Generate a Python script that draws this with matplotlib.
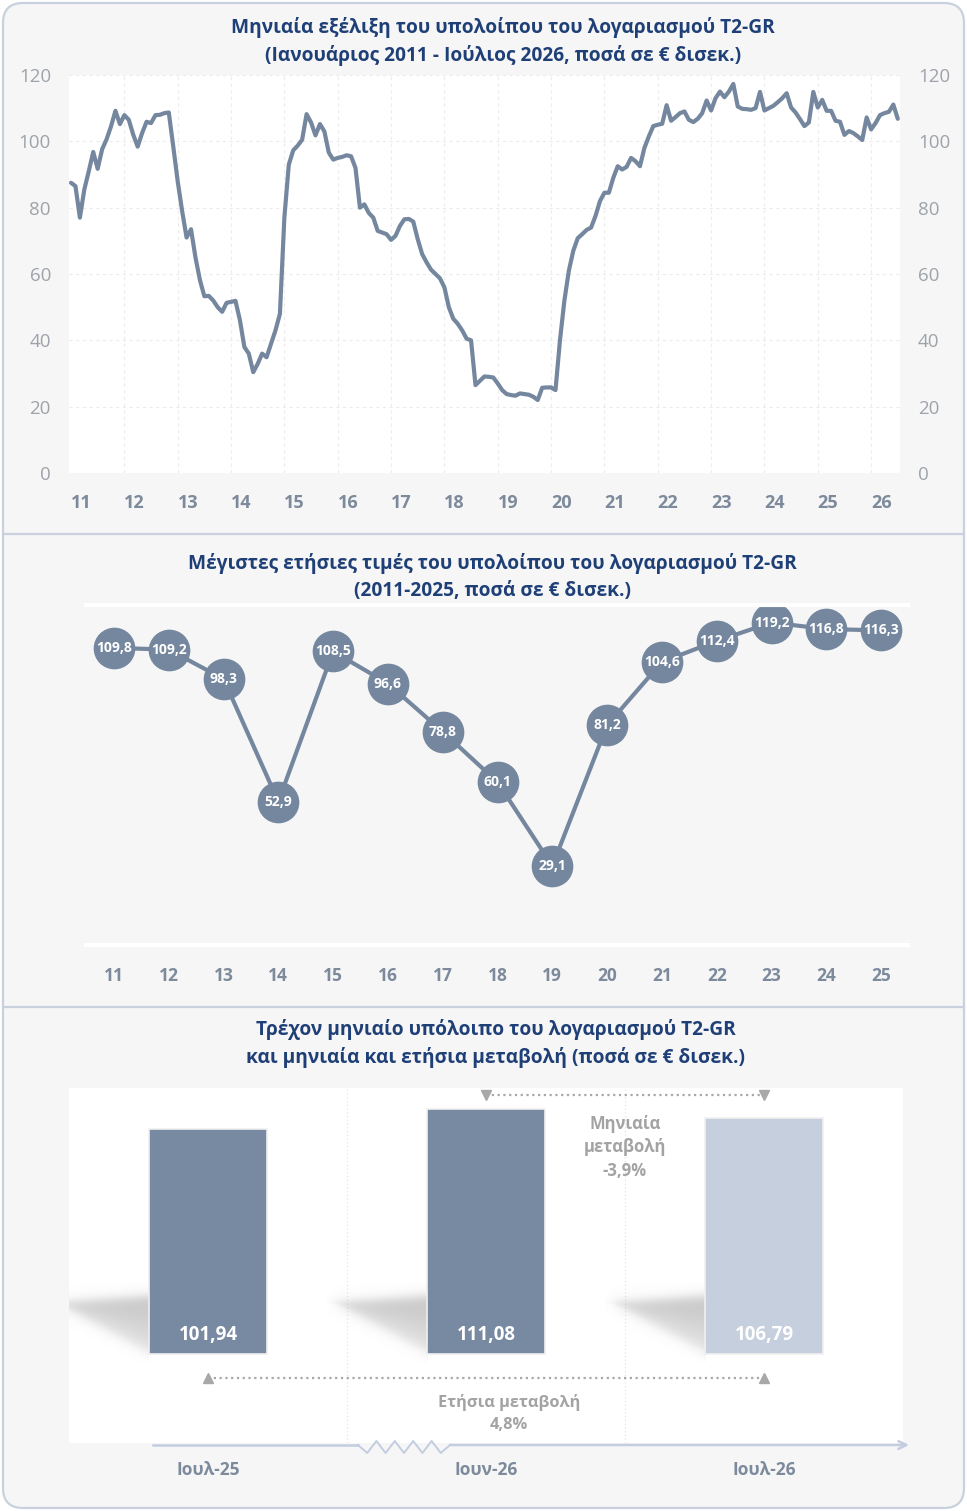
import numpy as np
import matplotlib
matplotlib.use('Agg')
import matplotlib.pyplot as plt
from matplotlib.patches import FancyBboxPatch

plt.rcParams['font.family'] = ['Open Sans', 'DejaVu Sans']

W, H = 967, 1511

# ---------------- data ----------------
# Monthly T2-GR balance, Jan 2011 - Jul 2026 (EUR bn)
bal_2011 = [87.5, 86.5, 77.0, 85.5, 91.0, 96.8, 91.7, 97.6, 100.6, 104.5, 109.2, 105.2]
bal_2012 = [107.9, 106.5, 102.0, 98.4, 102.5, 105.9, 105.5, 107.9, 108.0, 108.5, 108.7, 98.5]
bal_2013 = [88.0, 79.0, 71.0, 73.5, 65.0, 58.2, 53.3, 53.4, 52.0, 50.0, 48.6, 51.3]
bal_2014 = [51.6, 51.9, 46.1, 38.0, 36.0, 30.4, 32.9, 36.0, 34.9, 39.0, 43.0, 48.0]
bal_2015 = [77.0, 93.0, 97.3, 98.7, 100.5, 108.2, 105.7, 101.8, 105.2, 103.0, 96.6, 94.5]
bal_2016 = [95.0, 95.3, 95.8, 95.5, 92.0, 80.0, 81.0, 78.4, 77.0, 73.0, 72.5, 72.0]
bal_2017 = [70.3, 71.5, 74.5, 76.5, 76.6, 75.8, 70.5, 66.0, 63.5, 61.3, 60.0, 58.7]
bal_2018 = [56.0, 50.0, 46.5, 45.0, 43.0, 40.5, 40.0, 26.5, 27.8, 29.1, 29.0, 28.8]
bal_2019 = [27.0, 25.0, 23.8, 23.5, 23.3, 24.0, 23.8, 23.6, 23.0, 22.0, 25.7, 25.8]
bal_2020 = [25.8, 25.0, 40.0, 52.0, 61.0, 67.0, 70.8, 72.0, 73.3, 74.0, 77.5, 82.0]
bal_2021 = [84.5, 84.5, 89.0, 92.5, 91.5, 92.3, 95.0, 94.0, 92.5, 98.0, 101.5, 104.6]
bal_2022 = [105.0, 105.3, 110.9, 106.2, 107.3, 108.5, 109.0, 106.5, 105.8, 106.8, 108.5, 112.3]
bal_2023 = [109.3, 113.0, 115.0, 113.3, 115.0, 117.3, 110.5, 109.8, 109.7, 109.5, 110.0, 114.9]
bal_2024 = [109.3, 110.0, 110.7, 111.8, 113.0, 114.5, 110.2, 108.7, 106.7, 104.6, 105.7, 114.9]
bal_2025 = [110.2, 112.5, 109.2, 109.2, 106.2, 105.9, 101.94, 103.1, 102.5, 101.5, 100.4, 107.2]
bal_2026 = [103.6, 105.5, 107.9, 108.5, 108.9, 111.08, 106.79]
monthly_balance = (bal_2011 + bal_2012 + bal_2013 + bal_2014 + bal_2015 + bal_2016 +
                   bal_2017 + bal_2018 + bal_2019 + bal_2020 + bal_2021 + bal_2022 +
                   bal_2023 + bal_2024 + bal_2025 + bal_2026)
top_year_labels = ['11', '12', '13', '14', '15', '16', '17', '18', '19', '20',
                   '21', '22', '23', '24', '25', '26']
top_yticks = [0, 20, 40, 60, 80, 100, 120]

# Annual maxima 2011-2025
max_years = [2011, 2012, 2013, 2014, 2015, 2016, 2017, 2018, 2019, 2020,
             2021, 2022, 2023, 2024, 2025]
max_values = [109.8, 109.2, 98.3, 52.9, 108.5, 96.6, 78.8, 60.1, 29.1, 81.2,
              104.6, 112.4, 119.2, 116.8, 116.3]
max_year_labels = ['11', '12', '13', '14', '15', '16', '17', '18', '19', '20',
                   '21', '22', '23', '24', '25']

# Current balance comparison
bar_labels = ['Ιουλ-25', 'Ιουν-26', 'Ιουλ-26']
bar_values = [101.94, 111.08, 106.79]
monthly_change = '-3,9%'
annual_change = '4,8%'

# ---------------- style ----------------
TITLE_C = '#1f3f77'
LINE_C = '#74879e'
TICK_C = '#7d8a9c'
YTICK_C = '#9ea3aa'
GRAY_T = '#a3a3a3'
BAR_DARK = '#778aa1'
BAR_LIGHT = '#c6cfdd'
BORDER_C = '#c9d1de'
TFS = 13.8


def fmt(v, d):
    return f"{v:.{d}f}".replace('.', ',')


fig = plt.figure(figsize=(W / 100, H / 100), dpi=100, facecolor='white')


def px_axes(x0, y0, x1, y1, **kw):
    return fig.add_axes([x0 / W, 1 - y1 / H, (x1 - x0) / W, (y1 - y0) / H], **kw)


# background card
bg = px_axes(0, 0, W, H)
bg.set_xlim(0, W)
bg.set_ylim(H, 0)
bg.axis('off')
bg.set_zorder(-10)
bg.add_patch(FancyBboxPatch((3, 3), W - 6, H - 6,
                            boxstyle='round,pad=0,rounding_size=20',
                            fc='#f6f6f6', ec=BORDER_C, lw=1.6))
bg.plot([3, W - 3], [534, 534], color=BORDER_C, lw=1.6)
bg.plot([3, W - 3], [1007, 1007], color=BORDER_C, lw=1.6)

# titles
def title(x, y, s):
    fig.text(x / W, 1 - y / H, s, ha='center', va='center', fontsize=TFS,
             fontweight='bold', color=TITLE_C)


title(503, 28, 'Μηνιαία εξέλιξη του υπολοίπου του λογαριασμού T2-GR')
title(503, 55, '(Ιανουάριος 2011 - Ιούλιος 2026, ποσά σε € δισεκ.)')
title(492, 564, 'Μέγιστες ετήσιες τιμές του υπολοίπου του λογαριασμού T2-GR')
title(492, 591, '(2011-2025, ποσά σε € δισεκ.)')
title(496, 1030, 'Τρέχον μηνιαίο υπόλοιπο του λογαριασμού T2-GR')
title(496, 1058, 'και μηνιαία και ετήσια μεταβολή (ποσά σε € δισεκ.)')

# ---------------- top chart ----------------
ax1 = px_axes(69, 75, 900, 473)
ax1.set_facecolor('white')
months = np.arange(len(monthly_balance))
ax1.plot(months, monthly_balance, color=LINE_C, lw=3.0, solid_joinstyle='round',
         solid_capstyle='round', zorder=3)
ax1.set_xlim(-0.45, 186.5)
ax1.set_ylim(0, 120)
for s in ax1.spines.values():
    s.set_visible(False)
ax1.set_yticks(top_yticks)
ax1.set_yticklabels([str(v) for v in top_yticks])
ax1.set_xticks([12 * k + 2.3 for k in range(len(top_year_labels))])
ax1.set_xticklabels(top_year_labels)
ax1.set_xticks([12 * k for k in range(1, len(top_year_labels))], minor=True)
ax1.grid(which='minor', axis='x', color='#ececec', ls=(0, (3, 3)), lw=0.8)
ax1.grid(which='major', axis='y', color='#ececec', ls=(0, (3, 3)), lw=0.8)
ax1.tick_params(axis='y', length=0, labelsize=13.5, labelcolor=YTICK_C, pad=13,
                labelright=True)
ax1.tick_params(axis='x', which='both', length=0, labelsize=13, labelcolor=TICK_C, pad=15)
for lab in ax1.get_xticklabels():
    lab.set_fontweight('bold')

# ---------------- middle chart ----------------
ax2 = px_axes(86, 605, 908, 944.5)
ax2.set_facecolor('none')
ax2.plot(max_years, max_values, color=LINE_C, lw=3.0, zorder=2,
         marker='o', ms=29, mfc=LINE_C, mec=LINE_C)
for yr, v in zip(max_years, max_values):
    ax2.text(yr, v, fmt(v, 1), ha='center', va='center', color='white',
             fontsize=10, fontweight='bold', zorder=4)
ax2.set_xlim(2010.49, 2025.49)
ax2.set_ylim(0, 125.7)
for k in ['left', 'right']:
    ax2.spines[k].set_visible(False)
for k in ['top', 'bottom']:
    ax2.spines[k].set_color('white')
    ax2.spines[k].set_linewidth(3)
ax2.set_yticks([])
ax2.set_xticks(max_years)
ax2.set_xticklabels(max_year_labels)
ax2.tick_params(axis='x', length=0, labelsize=12.5, labelcolor=TICK_C, pad=16)
for lab in ax2.get_xticklabels():
    lab.set_fontweight('bold')

# ---------------- bottom chart ----------------
ax3 = px_axes(69, 1088, 903, 1443)
ax3.set_facecolor('white')
xb = np.arange(len(bar_values))
bw = 0.427


def sig(z):
    return 1.0 / (1.0 + np.exp(-z))


def shadow(ax, x_right):
    width = 0.36
    y0, y1 = -4.0, 32.0
    nx, ny = 200, 160
    s = np.linspace(0, 1, nx)[None, :]          # 0 = left tip, 1 = bar edge
    y = np.linspace(y0, y1, ny)[:, None]
    tip = 0.06
    sp = np.clip((s - tip) / (1 - tip), 0, 1)
    top = 22.5 + 3.5 * sp
    bot = 22.5 - 22.0 * sp
    b = 1.6
    a = sig((top - y) / b) * sig((y - bot) / b) * sig((s - tip) / 0.04)
    frac = np.clip((y - bot) / np.maximum(top - bot, 1e-3), 0, 1)
    a = a * (0.45 + 0.55 * frac)
    rgba = np.zeros((ny, nx, 4))
    rgba[..., :3] = 0.70
    rgba[..., 3] = a * 0.78
    ax.imshow(rgba, extent=(x_right - width, x_right, y0, y1), origin='lower',
              aspect='auto', zorder=1, interpolation='bilinear')


for x in xb:
    shadow(ax3, x - bw / 2)

colors = [BAR_DARK, BAR_DARK, BAR_LIGHT]
ax3.bar(xb, bar_values, width=bw, color=colors, edgecolor='#f0f0f0', lw=1.2, zorder=3)
for x, v in zip(xb, bar_values):
    ax3.text(x, 8.6, fmt(v, 2), ha='center', va='center', color='white',
             fontsize=13.5, fontweight='bold', zorder=4)

for xv in [0.5, 1.5]:
    ax3.axvline(xv, color='#e4e4e4', ls=(0, (1, 2)), lw=0.9, zorder=0)

ARC = '#a8a8a8'
ax3.plot([1, 2], [117.2, 117.2], ls=(0, (1, 1.6)), color=ARC, lw=1.6, zorder=2)
ax3.plot([1, 2], [117.2, 117.2], ls='none', marker='v', ms=7, color=ARC, zorder=2)
ax3.plot([0, 2], [-10.9, -10.9], ls=(0, (1, 1.6)), color=ARC, lw=1.6, zorder=2)
ax3.plot([0, 2], [-10.9, -10.9], ls='none', marker='^', ms=7, color=ARC, zorder=2)
ax3.text(1.5, 93.6, 'Μηνιαία\nμεταβολή\n' + monthly_change, ha='center', va='center',
         color=GRAY_T, fontsize=12, fontweight='bold', linespacing=1.4, zorder=4)
ax3.text(1.084, -27, 'Ετήσια μεταβολή\n' + annual_change, ha='center', va='center',
         color=GRAY_T, fontsize=11.8, fontweight='bold', linespacing=1.45, zorder=4)

ax3.set_xlim(-0.5, 2.5)
ax3.set_ylim(-40.3, 120.4)
for s in ax3.spines.values():
    s.set_visible(False)
ax3.set_yticks([])
ax3.set_xticks(xb)
ax3.set_xticklabels(bar_labels)
ax3.tick_params(axis='x', length=0, labelsize=12.5, labelcolor=TICK_C, pad=13)
for lab in ax3.get_xticklabels():
    lab.set_fontweight('bold')

# overlay decorations (axis line with break)
ov = px_axes(0, 0, W, H)
ov.set_xlim(0, W)
ov.set_ylim(H, 0)
ov.axis('off')
ov.patch.set_alpha(0)
ov.set_zorder(10)
AX_C = '#c3cde0'
ov.plot([153, 358], [1445, 1445], color=AX_C, lw=1.8)
zx = np.linspace(358, 450, 11)
zy = [1445, 1453, 1441, 1453, 1441, 1453, 1441, 1453, 1441, 1453, 1445]
ov.plot(zx, zy, color=AX_C, lw=1.4)
ov.annotate('', xy=(909, 1445), xytext=(450, 1445),
            arrowprops=dict(arrowstyle='->', color=AX_C, lw=1.8, mutation_scale=14,
                            shrinkA=0, shrinkB=0))

fig.savefig('out.png', dpi=100, facecolor='white')
